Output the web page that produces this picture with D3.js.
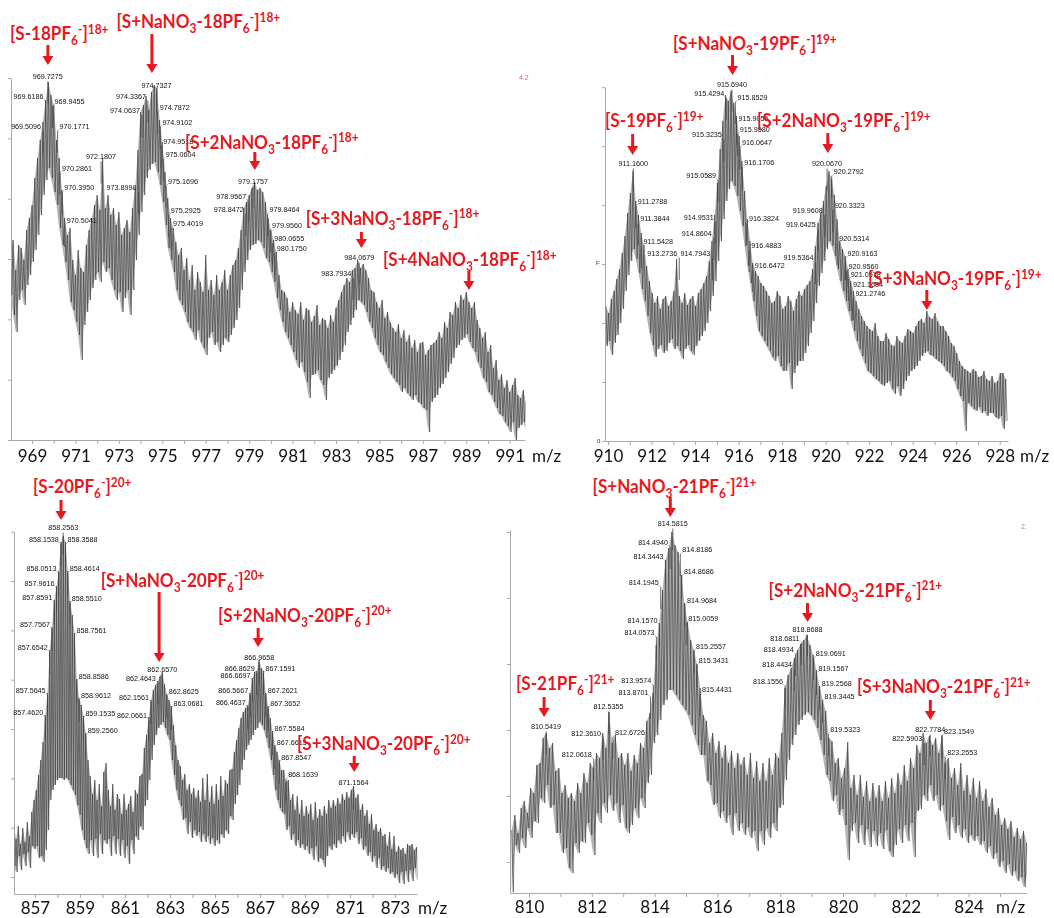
<!DOCTYPE html>
<html><head><meta charset="utf-8">
<script src="https://cdn.jsdelivr.net/npm/d3@7"></script>
<style>body{margin:0;background:#fff}svg{display:block}</style>
</head><body>
<svg id="c" width="1054" height="918"></svg>
<script>
// ================= DATA =================
// Each spectrum: hi[i] read at start+i*step, lo[i] read at start+(i+0.5)*step
// Top-left spectrum (18+)
const tlStart = 968.0, tlStep = 0.125;
const tlHi = [185,200,170,195,192,180,210,222,235,262, 282,300,318,340,358,345,335,300,282,250,
 222,205,212,180,165,190,172,168,195,210, 222,235,245,230,282,232,245,225,232,215,
 228,205,212,220,208,232,252,290,328,335, 344,330,348,355,352,320,298,268,242,222,
 212,198,185,192,170,182,160,175,150,168, 158,148,185,150,160,145,165,150,158,170,
 150,165,175,180,192,210,232,238,245,252, 258,250,252,248,238,222,210,200,188,165,
 150,148,142,128,138,130,126,138,120,132, 130,118,124,135,115,122,120,112,125,118,
 132,140,148,155,162,158,170,172,180,172, 176,170,162,150,148,138,132,140,122,128,
 118,112,108,116,102,110,98,105,92,100, 88,97,98,85,90,95,97,100,108,102,
 118,112,128,125,138,132,145,140,148,138, 132,138,120,112,102,108,88,95,72,80,
 60,66,52,60,48,55,62,45,42,50, 38];
const tlLo = [145,125,108,140,150,135,155,165,178,190, 205,225,245,260,272,262,248,235,212,195,
 178,160,138,130,118,105,80,115,128,140, 152,160,168,158,178,168,172,160,150,140,
 148,128,142,150,125,150,180,205,228,245, 262,270,276,278,268,255,238,215,192,180,
 168,150,140,135,128,118,112,108,100,110, 98,92,85,102,108,95,98,88,95,102,
 98,105,112,120,132,150,168,180,190,195, 196,200,198,192,182,178,168,158,142,130,
 118,108,102,95,88,80,72,78,68,58, 42,65,66,70,60,55,40,62,66,70,
 74,80,88,95,108,115,122,130,140,138, 135,128,118,112,102,95,88,85,78,72,
 66,62,58,55,48,52,47,44,40,45, 38,36,32,30,8,38,42,45,52,56,
 62,68,76,82,92,95,100,102,106,98, 92,88,78,72,62,58,48,45,38,32,
 26,24,18,14,8,18,0,12,15,18, 10];
const tlTickLabels = [969,971,973,975,977,979,981,983,985,987,989,991];
const tlPeakLabels = [["969.7275",364,"c"],["969.6186",344,"l"],["969.9455",339,"r"],["969.5096",314,"l"],
 ["970.1771",314,"r"],["970.2861",272,"r"],["970.3950",253,"r"],["970.5041",220,"r"],["972.1807",284,"c"],
 ["973.8998",253,"l"],["974.0637",330,"l"],["974.3367",344,"l"],["974.7327",355,"c"],["974.7872",333,"r"],
 ["974.9102",318,"r"],["974.9518",299,"r"],["975.0604",286,"r"],["975.1696",259,"r"],["975.2925",230,"r"],
 ["975.4019",217,"r"],["979.1757",259,"c"],["978.9567",244,"l"],["978.8472",231,"l"],["979.8464",231,"r"],
 ["979.9560",215,"r"],["980.0655",202,"r"],["980.1750",192,"r"],["984.0679",183,"c"],["983.7934",167,"l"]];
const tlIons = [["[S-18PF{6}<->]<18+>",969.73],["[S+NaNO{3}-18PF{6}<->]<18+>",974.52],
 ["[S+2NaNO{3}-18PF{6}<->]<18+>",979.26],["[S+3NaNO{3}-18PF{6}<->]<18+>",984.17],
 ["[S+4NaNO{3}-18PF{6}<->]<18+>",989.12]];

// Top-right spectrum (19+)
const trStart = 909.9, trStep = 0.125;
const trHi = [135,128,142,150,162,172,188,205,228,248, 270,240,226,208,196,175,160,148,138,145,
 132,142,145,135,140,150,182,145,138,148, 136,142,145,135,148,152,158,165,180,200,
 226,258,292,320,346,340,350,338,325,305, 280,250,222,200,178,170,165,158,155,150,
 145,138,140,150,145,132,135,145,140,130, 142,150,145,152,156,160,172,195,218,228,
 240,255,270,262,246,222,200,192,185,172, 160,150,140,132,125,120,115,112,110,118,
 105,100,100,108,102,96,95,105,100,98, 105,112,110,108,115,120,122,118,130,124,
 122,128,120,115,115,110,105,98,95,88, 80,75,72,70,68,72,70,64,65,70,
 62,60,65,58,60,68,68,62];
const trLo = [95,100,86,98,106,118,132,150,166,180, 192,182,168,152,140,125,108,96,84,92,
 96,88,90,98,102,92,95,90,82,92, 96,90,86,95,100,105,110,118,130,145,
 160,180,200,222,240,252,260,255,245,230, 215,195,175,158,140,125,110,105,100,95,
 90,84,80,85,75,70,70,78,52,68, 75,80,80,88,95,108,120,138,155,168,
 180,192,200,195,185,172,160,150,140,130, 120,110,100,92,85,78,70,68,65,62,
 60,57,55,58,60,52,47,55,45,52, 60,65,70,72,75,80,85,88,90,86,
 85,82,80,78,75,70,68,64,60,52, 45,40,10,38,35,32,30,34,28,30,
 25,28,28,24,22,25,12,20];
const trTickLabels = [910,912,914,916,918,920,922,924,926,928];
const trPeakLabels = [["915.6940",357,"c"],["915.4294",348,"l"],["915.8529",344,"r"],["915.9056",323,"r"],
 ["915.9580",312,"r"],["915.3235",307,"l"],["916.0647",299,"r"],["916.1706",279,"r"],["915.0589",266,"l"],
 ["911.1600",278,"c"],["911.2788",240,"r"],["911.3844",223,"r"],["911.5428",200,"r"],["914.9531",224,"l"],
 ["914.8604",208,"l"],["914.7943",188,"l"],["913.2736",188,"l"],["916.3824",223,"r"],["916.4883",196,"r"],
 ["916.6472",176,"r"],["919.5364",184,"l"],["920.0670",278,"c"],["920.2792",270,"r"],["919.9608",231,"l"],
 ["920.3323",236,"r"],["919.6425",217,"l"],["920.5314",203,"r"],["920.9163",188,"r"],["920.9560",175,"r"],
 ["921.0578",167,"r"],["921.1684",157,"r"],["921.2746",148,"r"]];
const trIons = [["[S+NaNO{3}-19PF{6}<->]<19+>",915.72],["[S-19PF{6}<->]<19+>",911.13],
 ["[S+2NaNO{3}-19PF{6}<->]<19+>",920.10],["[S+3NaNO{3}-19PF{6}<->]<19+>",924.65]];

// Bottom-left spectrum (20+)
const blStart = 856.06, blStep = 0.1;
const blHi = [70,55,68,50,66,52,72,58,82,94, 104,119,134,152,179,201,244,267,294,308,
 323,352,358,352,323,293,279,261,215,196, 189,178,161,134,118,100,114,94,110,88,
 122,131,104,88,110,84,100,95,80,100, 84,90,98,82,104,100,118,120,146,159,
 177,194,204,209,213,218,222,210,200,194, 188,169,149,134,128,114,120,104,110,100,
 106,96,104,92,116,94,120,92,108,90, 110,94,118,98,114,110,124,125,142,154,
 166,176,182,186,189,201,216,222,223,234, 226,223,201,188,176,163,149,142,134,124,
 124,112,114,94,100,84,98,80,94,78, 88,80,90,74,92,76,85,78,88,80,
 94,86,94,88,96,90,100,94,102,96, 104,108,96,100,84,90,78,84,70,80,
 64,70,62,66,58,60,48,62,45,58, 42,48,44,46,40,50,48,50,44,47];
const blLo = [28,22,38,24,40,28,42,26,48,45, 48,36,38,32,44,64,94,104,109,114,
 116,116,114,116,114,109,104,99,89,79, 64,54,46,40,54,38,55,36,60,40,
 54,50,55,38,58,40,55,38,54,36, 48,30,54,40,58,54,68,64,88,94,
 114,134,149,159,166,169,172,166,159,154, 134,119,104,94,88,74,76,60,72,56,
 64,58,62,52,60,52,58,50,56,48, 54,50,60,56,64,60,78,74,90,99,
 109,124,134,144,149,154,159,164,166,172, 169,164,156,146,134,119,104,94,86,82,
 80,64,68,54,60,48,54,46,50,44, 48,40,46,34,48,32,36,34,27,38,
 48,44,50,46,54,50,58,52,62,54, 60,56,62,50,56,44,48,38,42,32,
 38,26,36,24,28,22,26,20,22,16, 20,11,22,10,23,12,24,13,26,14];
const blTickLabels = [857,859,861,863,865,867,869,871,873];
const blPeakLabels = [["858.2563",367,"c"],["858.1538",355,"l"],["858.3588",355,"r"],["858.0513",326,"l"],
 ["858.4614",326,"r"],["857.9616",311,"l"],["857.8591",297,"l"],["858.5510",296,"r"],["857.7567",270,"l"],
 ["858.7561",264,"r"],["857.6542",247,"l"],["858.8586",218,"r"],["857.5645",204,"l"],["858.9612",199,"r"],
 ["857.4620",182,"l"],["859.1535",181,"r"],["859.2560",164,"r"],["862.6570",225,"c"],["862.4643",216,"l"],
 ["862.8625",203,"r"],["862.1561",197,"l"],["863.0681",191,"r"],["862.0661",179,"l"],["866.9658",237,"c"],
 ["866.8629",226,"l"],["867.1591",226,"r"],["866.6697",219,"l"],["866.5667",204,"l"],["867.2621",204,"r"],
 ["866.4637",192,"l"],["867.3652",191,"r"],["867.5584",166,"r"],["867.6615",152,"r"],["867.8547",137,"r"],
 ["868.1639",120,"r"],["871.1564",112,"c"]];
const blIons = [["[S-20PF{6}<->]<20+>",858.16],["[S+NaNO{3}-20PF{6}<->]<20+>",862.52],
 ["[S+2NaNO{3}-20PF{6}<->]<20+>",866.92],["[S+3NaNO{3}-20PF{6}<->]<20+>",871.19]];

// Bottom-right spectrum (21+)
const brStart = 809.45, brStep = 0.1;
const brHi = [63,78,60,85,92,80,105,100,128,130, 155,160,145,150,122,125,100,108,95,100,
 92,110,100,120,110,130,125,140,135,160, 145,181,150,158,135,140,128,140,122,138,
 130,150,145,172,180,200,248,270,303,333, 345,361,348,341,318,290,271,253,243,229,
 205,178,172,150,160,140,152,135,148,130, 142,125,140,128,136,118,140,115,132,112,
 130,112,135,118,140,135,160,205,218,225, 235,243,249,253,258,248,238,223,207,193,
 182,155,152,130,135,115,125,151,105,118, 98,118,96,112,92,110,95,108,92,112,
 95,115,100,120,108,128,112,135,125,148, 140,160,150,157,148,155,140,158,130,135,
 115,125,108,130,102,118,98,115,95,112, 92,104,86,95,78,85,68,75,64,72, 56,65,54,62,50];
const brLo = [1,48,40,55,45,65,55,72,70,95, 90,108,85,88,60,60,40,45,25,20,
 50,40,52,50,70,58,38,80,70,90, 80,98,82,90,70,88,65,60,68,85,
 75,95,85,110,118,150,158,173,188,193, 203,203,198,193,188,183,178,168,158,148,
 138,138,112,108,88,90,75,82,70,78, 58,80,62,70,58,66,55,62,42,62,
 48,65,55,70,62,85,88,113,133,148, 158,168,173,178,181,178,173,165,153,138,
 118,112,92,98,78,84,68,33,62,70, 50,68,48,64,46,62,47,60,44,63,
 42,36,48,64,50,68,52,70,36,82, 84,98,92,108,92,98,82,88,72,53,
 76,60,68,55,64,50,58,52,57,48, 52,40,47,34,40,26,32,20,29,17, 22,12,16,6,17];
const brTickLabels = [810,812,814,816,818,820,822,824];
const brPeakLabels = [["814.5815",370,"c"],["814.4940",351,"l"],["814.8186",344,"r"],["814.3443",337,"l"],
 ["814.8686",322,"r"],["814.1945",311,"l"],["814.9684",293,"r"],["815.0059",275,"r"],["814.1570",273,"l"],
 ["814.0573",261,"l"],["815.2557",247,"r"],["815.3431",233,"r"],["813.9574",213,"l"],["815.4431",204,"r"],
 ["813.8701",201,"l"],["812.5355",187,"c"],["812.3610",160,"l"],["812.6726",161,"r"],["812.0618",139,"l"],
 ["810.5419",167,"c"],["818.8688",264,"c"],["818.6811",255,"l"],["818.4934",244,"l"],["819.0691",240,"r"],
 ["818.4434",229,"l"],["819.1567",225,"r"],["818.1556",212,"l"],["819.2568",210,"r"],["819.3445",197,"r"],
 ["819.5323",164,"r"],["822.7784",164,"c"],["822.5903",155,"l"],["823.1549",162,"r"],["823.2553",141,"r"]];
const brIons = [["[S+NaNO{3}-21PF{6}<->]<21+>",814.50],["[S+2NaNO{3}-21PF{6}<->]<21+>",818.87],
 ["[S-21PF{6}<->]<21+>",810.48],["[S+3NaNO{3}-21PF{6}<->]<21+>",822.78]];

// ================= LAYOUT =================
const RED = "#e8191e";
const panels = [
 {id:"tl", start:tlStart, step:tlStep, hi:tlHi, lo:tlLo, labels:tlPeakLabels, ions:tlIons, ticks:tlTickLabels,
  xd:[968.03,991.7], xr:[11,524.9], yd:[0,362], yr:[440,78], yTicks:d3.range(7).map(k=>k*362/6), pad:6, mz:[532,462],
  ionLayout:[[10,40,45,65],[116.5,28,34,73],[185,148.6,152,170],[305.7,224.7,232,248],[383,266,271,290]]},
 {id:"tr", start:trStart, step:trStep, hi:trHi, lo:trLo, labels:trPeakLabels, ions:trIons, ticks:trTickLabels,
  xd:[909.86,928.38], xr:[605,1008], yd:[0,353.8], yr:[441,87.2], yTicks:d3.range(7).map(k=>k*353.8/6), pad:5, mz:[1020,462],
  ionLayout:[[673,50,55,75],[605,127,134,155],[757,127,133,153],[868,285,290,310]]},
 {id:"bl", start:blStart, step:blStep, hi:blHi, lo:blLo, labels:blPeakLabels, ions:blIons, ticks:blTickLabels,
  xd:[856.07,873.98], xr:[14,417], yd:[0,362.3], yr:[894,531.7], yTicks:d3.range(8).map(k=>17+k*49.33), pad:4, mz:[418,913.5],
  ionLayout:[[33,493,500,520],[100.7,586.7,592,662],[218,621.7,628,647],[297,750,756,772]]},
 {id:"br", start:brStart, step:brStep, hi:brHi, lo:brLo, labels:brPeakLabels, ions:brIons, ticks:brTickLabels,
  xd:[809.395,825.84], xr:[510,1026.4], yd:[0,363], yr:[893,530], yTicks:[31,97,163,229,295,361], pad:4, mz:[996,912.5],
  ionLayout:[[592.6,493,497,517],[768.6,596.7,603,622],[516,690,697,717],[857,693,700,720]]}
];

const svg = d3.select("#c");
const defs = svg.append("defs");
// grayscale filter so small black text renders without colour fringes
defs.append("filter").attr("id", "gray").attr("x", 0).attr("y", 0).attr("width", 1).attr("height", 1)
  .attr("filterUnits", "userSpaceOnUse").attr("x", 0).attr("y", 0).attr("width", 1054).attr("height", 918)
  .append("feColorMatrix").attr("type", "saturate").attr("values", 0);

function ionText(sel, str){
  const re = /\{([^}]*)\}|<([^>]*)>|([^{<]+)/g; let m, cur = 0;
  while ((m = re.exec(str))){
    let t, off, fs;
    if (m[1] !== undefined){ t = m[1]; off = 5; fs = 12.5; }
    else if (m[2] !== undefined){ t = m[2]; off = -6.5; fs = 12.5; }
    else { t = m[3]; off = 0; fs = 18; }
    sel.append("tspan").attr("dy", off - cur).attr("font-size", fs).text(t);
    cur = off;
  }
}

panels.forEach(p => {
  const x = d3.scaleLinear().domain(p.xd).range(p.xr);
  const y = d3.scaleLinear().domain(p.yd).range(p.yr);
  const g = svg.append("g");
  const mono = g.append("g").attr("filter", "url(#gray)");
  const axisY = p.yr[0];

  // x axis
  const ints = d3.range(Math.ceil(p.xd[0]), Math.floor(p.xd[1]) + 1);
  const xa = mono.append("g").attr("transform", `translate(0,${axisY})`)
    .call(d3.axisBottom(x).tickValues(ints).tickSize(4).tickSizeOuter(0).tickPadding(p.pad)
      .tickFormat(d => p.ticks.includes(d) ? String(d) : ""));
  xa.selectAll("path,line").attr("stroke", "#a9a9a9");
  xa.selectAll("text").attr("font-family", "Lato, 'Open Sans', sans-serif").attr("font-size", 17).attr("fill", "#111");
  mono.append("text").attr("x", p.mz[0]).attr("y", p.mz[1]).attr("font-family", "Lato, 'Open Sans', sans-serif")
    .attr("font-size", 17).attr("fill", "#111").text("m/z");

  // y axis (unlabelled)
  const ya = mono.append("g").attr("transform", `translate(${p.xr[0]},0)`)
    .call(d3.axisLeft(y).tickValues(p.yTicks).tickSize(3).tickSizeOuter(0).tickFormat(""));
  ya.selectAll("path,line").attr("stroke", "#a9a9a9");

  // clip
  const cid = "clip-" + p.id;
  defs.append("clipPath").attr("id", cid).append("rect")
    .attr("x", p.xr[0] + 0.5).attr("y", p.yr[1] - 30).attr("width", p.xr[1] - p.xr[0])
    .attr("height", axisY - p.yr[1] + 30);

  // spectrum: light band between envelopes + noisy trace
  const band = p.hi.map((h, i) => [p.start + i * p.step, p.lo[i], h]);
  mono.append("path").attr("d", d3.area().x(d => x(d[0])).y0(d => y(d[1])).y1(d => y(d[2]))(band))
    .attr("fill", "#b4b4b4").attr("clip-path", `url(#${cid})`);
  const pts = [];
  p.hi.forEach((h, i) => {
    const m = p.start + i * p.step;
    pts.push([m, h]);
    pts.push([m + p.step / 2, p.lo[i]]);
  });
  mono.append("path").attr("d", d3.line().x(d => x(d[0])).y(d => y(d[1]))(pts))
    .attr("fill", "none").attr("stroke", "#333").attr("stroke-width", 0.6)
    .attr("clip-path", `url(#${cid})`);

  // peak labels
  p.labels.forEach(([t, v, s]) => {
    const px = x(+t), py = y(v);
    let tx, anchor, tip;
    if (s === "c"){ tx = px; anchor = "middle"; tip = py + 5.5; }
    else if (s === "l"){ tx = px - 2; anchor = "end"; tip = py + 5; }
    else { tx = px + 2; anchor = "start"; tip = py + 5; }
    mono.append("line").attr("x1", px).attr("x2", px).attr("y1", tip).attr("y2", tip + 22)
      .attr("stroke", "#444").attr("stroke-width", 0.8);
    if (s !== "c") mono.append("line").attr("x1", tx).attr("y1", py + 3).attr("x2", px).attr("y2", tip)
      .attr("stroke", "#888").attr("stroke-width", 0.6);
    mono.append("text").attr("x", tx).attr("y", py + 2.6).attr("text-anchor", anchor)
      .attr("font-family", "'Liberation Sans', Arial, sans-serif").attr("font-size", 7.2)
      .attr("fill", "#111").text(t);
  });

  // ion annotations (red)
  p.ions.forEach(([str, mz], i) => {
    const [lx, by, a1, a2] = p.ionLayout[i];
    const ax = x(mz);
    const t = g.append("text").attr("transform", `translate(${lx},${by}) scale(0.95,1)`).attr("fill", RED)
      .attr("font-family", "Lato, 'Open Sans', sans-serif").attr("font-weight", "bold");
    ionText(t, str);
    g.append("line").attr("x1", ax).attr("x2", ax).attr("y1", a1).attr("y2", a2 - 7)
      .attr("stroke", RED).attr("stroke-width", 3);
    g.append("path").attr("d", `M${ax - 5.5},${a2 - 9}L${ax + 5.5},${a2 - 9}L${ax},${a2}Z`).attr("fill", RED);
  });
});

// stray small marks from the original export
svg.append("text").attr("x", 519).attr("y", 80).attr("font-size", 7).attr("fill", "#e06a6a")
  .attr("font-family", "'Liberation Sans', Arial, sans-serif").text("4.2");
svg.append("text").attr("x", 1021).attr("y", 529).attr("font-size", 7).attr("fill", "#e06a6a")
  .attr("font-family", "'Liberation Sans', Arial, sans-serif").text("2.");
const marks = svg.append("g").attr("filter", "url(#gray)");
marks.append("text").attr("x", 597).attr("y", 443).attr("font-size", 6).attr("fill", "#333")
  .attr("font-family", "'Liberation Sans', Arial, sans-serif").text("0");
marks.append("text").attr("x", 596).attr("y", 265).attr("font-size", 6).attr("fill", "#333")
  .attr("font-family", "'Liberation Sans', Arial, sans-serif").text("F");
</script>
</body></html>
